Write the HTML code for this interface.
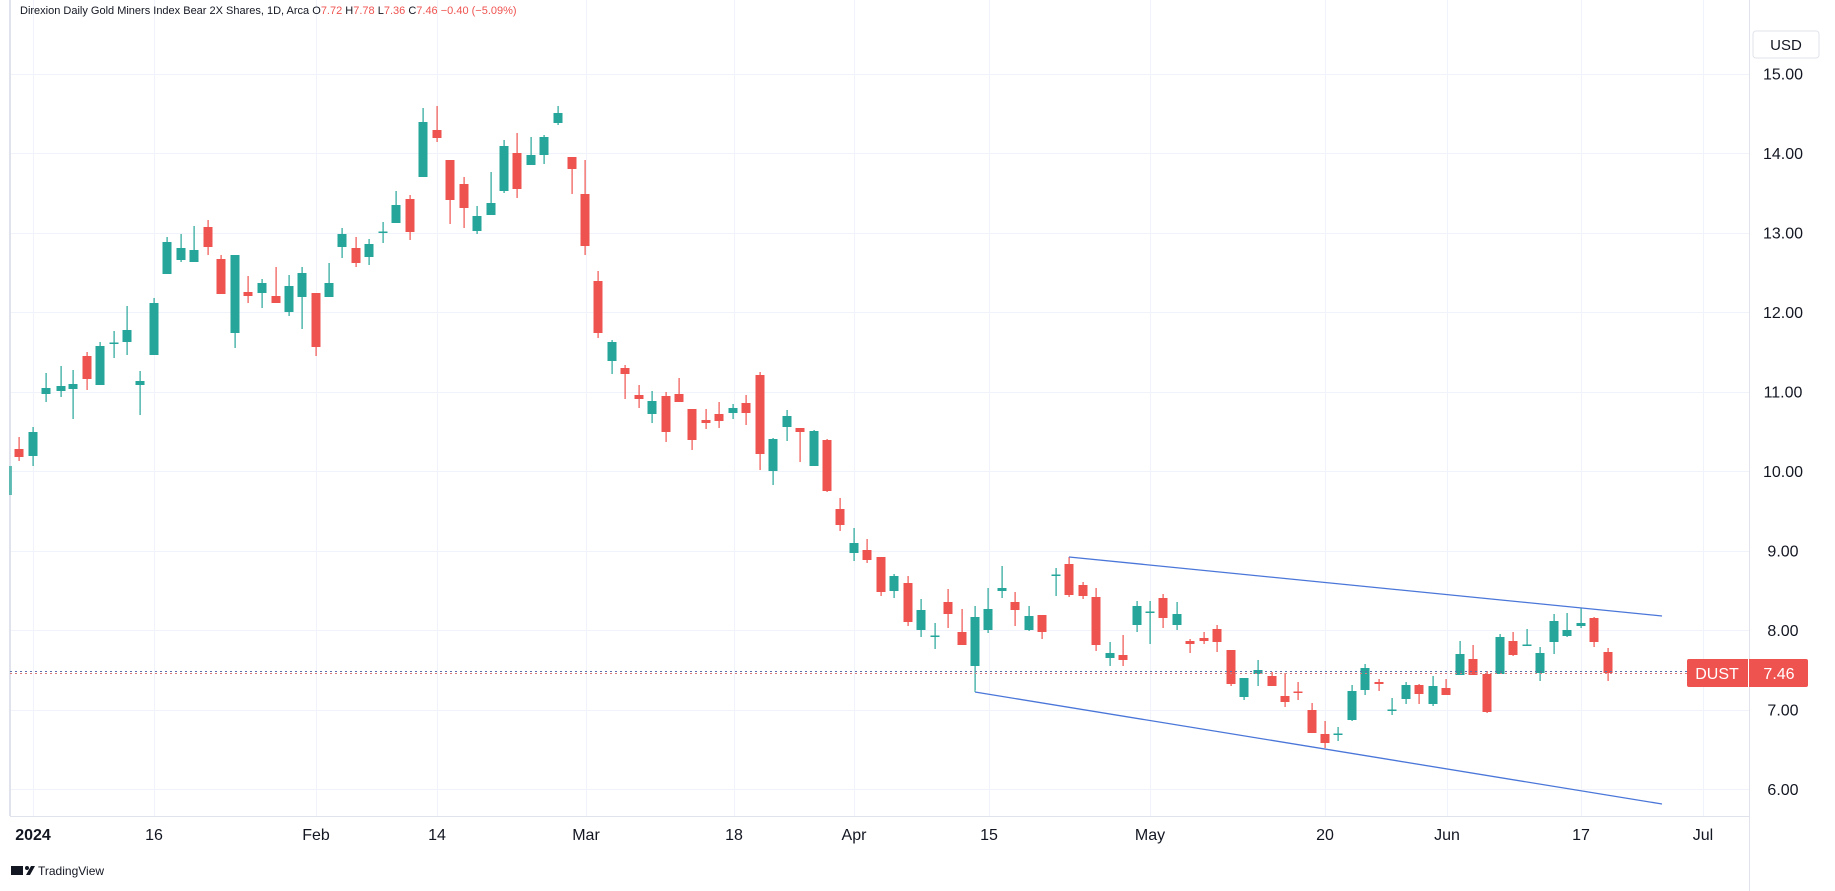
<!DOCTYPE html>
<html><head><meta charset="utf-8"><style>
html,body{margin:0;padding:0;background:#fff;}
body{width:1835px;height:891px;overflow:hidden;position:relative;font-family:"Liberation Sans",sans-serif;}
svg{position:absolute;left:0;top:0;}
</style></head><body>
<svg id="c" width="1835" height="891" xmlns="http://www.w3.org/2000/svg">
<rect x="0" y="0" width="1835" height="891" fill="#fff"/>
<g id="grid" stroke="#f0f3fa" stroke-width="1"></g>
<line x1="10" y1="0" x2="10" y2="816" stroke="#e0e3eb" stroke-width="2"/>
<line x1="1749.5" y1="0" x2="1749.5" y2="891" stroke="#e0e3eb"/>
<line x1="10" y1="816.5" x2="1749" y2="816.5" stroke="#e0e3eb"/>
<g id="cd"></g>
<line x1="1069" y1="557" x2="1662" y2="616" stroke="#4a76d9" stroke-width="1.3"/>
<line x1="975" y1="692" x2="1662" y2="804" stroke="#4a76d9" stroke-width="1.3"/>
<line x1="975" y1="692" x2="975" y2="606" stroke="#26a69a" stroke-width="1"/>
<line x1="10" y1="671.5" x2="1749" y2="671.5" stroke="#5b6fa8" stroke-dasharray="2,3" stroke-width="1"/>
<line x1="10" y1="673.5" x2="1749" y2="673.5" stroke="#d97a7a" stroke-dasharray="2,3" stroke-width="1"/>
<g id="yl" font-size="16" fill="#131722" text-anchor="middle"></g>
<g id="xl" font-size="16" fill="#131722" text-anchor="middle"></g>
<rect x="1753" y="31" width="66" height="27" rx="3" fill="#fff" stroke="#e0e3eb"/>
<text x="1786" y="50" font-size="15" fill="#131722" text-anchor="middle">USD</text>
<rect x="1687" y="659" width="121" height="28" rx="2" fill="#ef5350"/>
<line x1="1748.5" y1="659" x2="1748.5" y2="687" stroke="#fff"/>
<text x="1717" y="679" font-size="16" fill="#fff" text-anchor="middle">DUST</text>
<text x="1779" y="679" font-size="16" fill="#fff" text-anchor="middle">7.46</text>
<text x="20" y="14" font-size="11" fill="#131722">Direxion Daily Gold Miners Index Bear 2X Shares, 1D, Arca  <tspan fill="#131722">O</tspan><tspan fill="#ef5350">7.72</tspan> H<tspan fill="#ef5350">7.78</tspan> L<tspan fill="#ef5350">7.36</tspan> C<tspan fill="#ef5350">7.46</tspan> <tspan fill="#ef5350">−0.40 (−5.09%)</tspan></text>
<g transform="translate(11,866)"><rect x="0" y="0" width="12" height="9" fill="#131722"/><circle cx="16" cy="2" r="2" fill="#131722"/><path d="M15 9 L20 0 L24 0 L19 9Z" fill="#131722"/></g>
<text x="38" y="875" font-size="12" fill="#131722">TradingView</text>
</svg>
<script>
var NS="http://www.w3.org/2000/svg";
function el(p,t,a,txt){var e=document.createElementNS(NS,t);for(var k in a)e.setAttribute(k,a[k]);if(txt)e.textContent=txt;p.appendChild(e);return e;}
var g=document.getElementById('grid');
[33,154,316,437,586,734,854,989,1150,1325,1447,1581,1703].forEach(function(x){el(g,'line',{x1:x+.5,y1:0,x2:x+.5,y2:816});});
var yl=document.getElementById('yl');
for(var p=15;p>=6;p--){var y=73.5+(15-p)*79.5;el(g,'line',{x1:10,y1:Math.round(y)+.5,x2:1749,y2:Math.round(y)+.5});el(yl,'text',{x:1783,y:y+6},p.toFixed(2));}
var xl=document.getElementById('xl');
[[33,'2024'],[154,'16'],[316,'Feb'],[437,'14'],[586,'Mar'],[734,'18'],[854,'Apr'],[989,'15'],[1150,'May'],[1325,'20'],[1447,'Jun'],[1581,'17'],[1703,'Jul']].forEach(function(a){var t=el(xl,'text',{x:a[0],y:840},a[1]);if(a[1]=='2024')t.setAttribute('font-weight','bold');});
var G='#26a69a',R='#ef5350';
var d=[
[19,449,457,437,461,R],[33,432,456,427,466,G],[46,388,394,373,402,G],[61,386,391,366,397,G],[73,384,389,370,419,G],[87,356,379,352,390,R],[100,346,385,342,385,G],[114,343,343,331,358,G],[127,330,342,306,355,G],[140,381,385,371,415,G],[154,303,355,298,355,G],[167,242,274,237,274,G],[181,248,260,234,262,G],[194,250,262,226,262,G],[208,227,247,220,255,R],[221,259,294,255,294,R],[235,255,333,255,348,G],
[248,292,296,276,303,R],[262,283,293,279,308,G],[276,296,303,267,303,R],[289,286,312,275,316,G],[302,273,297,267,329,G],[316,293,347,293,356,R],[329,283,297,263,297,G],[342,234,247,228,258,G],[356,248,263,237,267,R],[369,244,257,239,265,G],[383,232,232,222,243,G],[396,205,223,191,223,G],[410,199,232,195,240,R],[423,122,177,108,177,G],[437,130,138,106,142,R],[450,160,200,160,224,R],[464,184,208,177,228,R],[477,216,231,206,234,G],[491,203,215,172,215,G],[504,146,191,140,193,G],[517,153,189,133,198,R],[531,155,165,137,165,G],[544,137,155,135,164,G],[558,113,123,106,125,G],[572,157,169,157,194,R],[585,194,246,160,255,R],[598,281,333,271,338,R],[612,342,361,340,374,G],[625,368,374,365,399,R],[639,395,399,385,408,R],[652,401,414,391,423,G],[666,396,432,392,442,R],[679,394,402,378,402,R],[692,409,440,409,450,R],[706,420,423,409,429,R],[719,414,421,402,428,R],[733,408,413,404,419,G],
[746,403,413,395,425,R],[760,375,454,372,470,R],[773,439,471,438,485,G],[787,416,427,410,441,G],[800,428,432,428,462,R],[814,431,466,430,466,G],[827,440,491,439,492,R],[840,509,525,498,531,R],[854,543,553,528,561,G],[867,550,560,539,563,R],[881,557,592,557,596,R],[894,576,591,574,598,G],[908,583,622,576,626,R],[921,610,630,599,637,G],[935,636,636,623,649,G],[948,602,614,589,628,R],[962,632,645,609,645,R],[975,617,666,606,690,G],[988,609,630,588,633,G],[1002,588,591,566,598,G],[1015,602,610,592,626,R],[1029,616,630,606,631,G],[1042,615,632,615,639,R],[1056,575,575,568,596,G],[1069,564,595,557,597,R],[1083,585,596,582,599,R],[1096,597,645,588,651,R],[1110,653,658,642,666,G],[1123,655,660,635,666,R],[1137,606,625,601,632,G],[1150,612,612,601,644,G],[1163,598,618,594,628,R],[1177,614,625,602,630,G],[1190,641,644,639,653,R],[1204,638,641,632,644,R],[1217,629,642,625,652,R],
[1231,650,684,650,686,R],[1244,678,697,678,700,G],[1258,670,674,660,686,G],[1272,676,686,672,686,R],[1285,696,702,673,707,R],[1298,692,692,682,700,R],[1312,710,733,703,733,R],[1325,734,743,721,748,R],[1338,734,734,727,741,G],[1352,691,720,685,721,G],[1365,668,690,664,695,G],[1379,682,684,679,691,R],[1392,710,710,698,715,G],[1406,685,699,682,704,G],[1419,685,694,684,704,R],[1433,686,704,676,706,G],[1446,688,695,679,695,R],[1460,654,675,641,675,G],[1473,659,675,645,675,R],[1487,674,712,671,713,R],[1500,637,674,634,674,G],[1513,641,655,632,656,R],[1527,645,645,629,645,G],[1540,653,673,647,681,G],[1554,621,642,614,654,G],[1567,630,636,613,637,G],[1581,623,626,608,628,G],[1594,618,642,617,647,R],[1608,652,673,648,681,R]
];
var cd=document.getElementById('cd');
el(cd,'rect',{x:9,y:466,width:3,height:29,fill:G,opacity:0.7});
d.forEach(function(c){
 el(cd,'rect',{x:c[0]-0.5,y:c[3],width:1.2,height:Math.max(1,c[4]-c[3]),fill:c[5]});
 var h=c[2]-c[1];
 el(cd,'rect',{x:c[0]-4.5,y:h<2?c[1]-0.5:c[1],width:9,height:Math.max(1.5,h),fill:c[5]});
});
</script>
</body></html>
